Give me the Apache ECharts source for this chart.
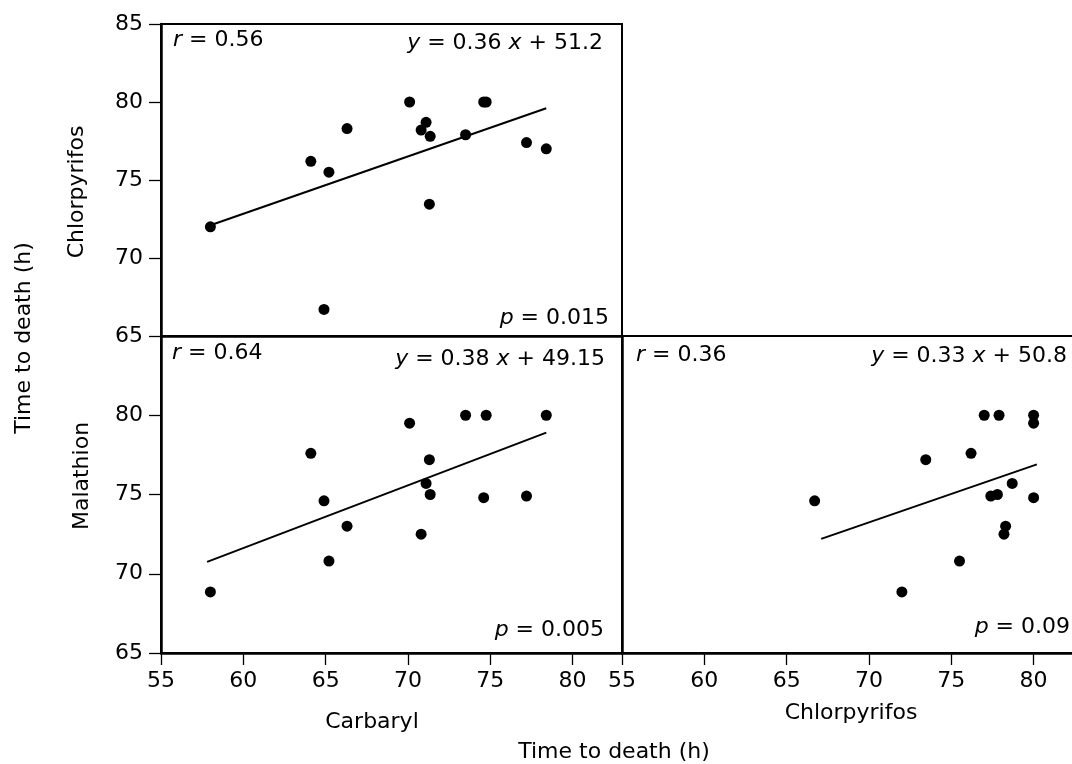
<!DOCTYPE html>
<html>
<head>
<meta charset="utf-8">
<script src="https://cdn.jsdelivr.net/npm/echarts@6/dist/echarts.min.js"></script>
<style>
    html, body {margin: 0; padding: 0; background: #fff;}
    #chart {width: 1072px; height: 764px;}
</style>
</head>
<body>
<div id="chart"></div>
<script>
// time to death (h) of the same 15 groups under three insecticides
var carbaryl     = [58.0, 64.1, 64.9, 65.2, 66.3, 70.1, 70.8, 71.1, 71.3, 71.35, 73.5, 74.6, 74.75, 77.2, 78.4];
var chlorpyrifos = [72.0, 76.2, 66.7, 75.5, 78.3, 80.0, 78.2, 78.7, 73.45, 77.8, 77.9, 80.0, 80.0, 77.4, 77.0];
var malathion    = [68.85, 77.6, 74.6, 70.8, 73.0, 79.5, 72.5, 75.7, 77.2, 75.0, 80.0, 74.8, 80.0, 74.9, 80.0];

// fitted lines, end points
var fitCarbChlor = [[58.0, 72.1], [78.4, 79.6]];
var fitCarbMal   = [[57.8, 70.75], [78.4, 78.9]];
var fitChlorMal  = [[67.1, 72.2], [80.2, 76.9]];

// r, slope/intercept and p for each panel (top-left, bottom-left, bottom-right)
var rText  = ['0.56', '0.64', '0.36'];
var eqText = [['0.36', '51.2'], ['0.38', '49.15'], ['0.33', '50.8']];
var pText  = ['0.015', '0.005', '0.09'];

var FONT = 'DejaVu Sans';

function pairs(a, b) {
    var out = [];
    for (var i = 0; i < a.length; i++) {
        out.push([a[i], b[i]]);
    }
    return out;
}

function xAx(grid, labels) {
    return {
        gridIndex: grid, type: 'value', min: 55, max: 83, interval: 5,
        axisLine: {show: true, onZero: false, lineStyle: {color: '#000', width: 2.5}},
        axisTick: {show: labels, inside: false, length: 12, lineStyle: {color: '#000', width: 1.3}},
        axisLabel: {show: labels, margin: 17, showMaxLabel: false, color: '#000', fontSize: 22, fontFamily: FONT},
        splitLine: {show: false}
    };
}

function yAx(grid, labels, showMax) {
    return {
        gridIndex: grid, type: 'value', min: 65, max: 85, interval: 5,
        axisLine: {show: true, onZero: false, lineStyle: {color: '#000', width: 2.5}},
        axisTick: {show: labels, inside: false, length: 12, lineStyle: {color: '#000', width: 1.3}},
        axisLabel: {show: labels, margin: 18, showMaxLabel: showMax, color: '#000', fontSize: 22, fontFamily: FONT},
        splitLine: {show: false}
    };
}

function dots(xi, yi, data) {
    return {
        type: 'scatter', xAxisIndex: xi, yAxisIndex: yi, data: data,
        symbol: 'circle', symbolSize: 11, itemStyle: {color: '#000', opacity: 1}, silent: true
    };
}

function fit(xi, yi, data) {
    return {
        type: 'line', xAxisIndex: xi, yAxisIndex: yi, data: data,
        showSymbol: false, symbol: 'none', lineStyle: {color: '#000', width: 2}, silent: true
    };
}

var rich = {
    i: {fontStyle: 'italic', fontSize: 22, fontFamily: FONT, fill: '#000'},
    n: {fontSize: 22, fontFamily: FONT, fill: '#000'}
};

function txt(x, y, text, align, rot) {
    return {
        type: 'text', x: x, y: y, rotation: rot || 0, silent: true,
        style: {
            text: text, fill: '#000', fontSize: 22, fontFamily: FONT,
            textAlign: align || 'center', textVerticalAlign: 'middle', rich: rich
        }
    };
}

function rLabel(i) { return '{i|r}{n| = ' + rText[i] + '}'; }
function eqLabel(i) { return '{i|y}{n| = ' + eqText[i][0] + ' }{i|x}{n| + ' + eqText[i][1] + '}'; }
function pLabel(i) { return '{i|p}{n| = ' + pText[i] + '}'; }

var chart = echarts.init(document.getElementById('chart'));

var gridBase = {show: true, borderColor: '#000', borderWidth: 2, backgroundColor: 'transparent', containLabel: false, outerBoundsMode: 'none'};

var option = {
    animation: false,
    backgroundColor: '#fff',
    grid: [
        Object.assign({left: 161, top: 24, width: 461, height: 312}, gridBase),
        Object.assign({left: 161, top: 336, width: 461, height: 317}, gridBase),
        Object.assign({left: 622, top: 336, width: 461, height: 317}, gridBase)
    ],
    xAxis: [xAx(0, false), xAx(1, true), xAx(2, true)],
    yAxis: [yAx(0, true, true), yAx(1, true, false), yAx(2, false, false)],
    series: [
        dots(0, 0, pairs(carbaryl, chlorpyrifos)),
        fit(0, 0, fitCarbChlor),
        dots(1, 1, pairs(carbaryl, malathion)),
        fit(1, 1, fitCarbMal),
        dots(2, 2, pairs(chlorpyrifos, malathion)),
        fit(2, 2, fitChlorMal)
    ],
    graphic: [
        // panel statistics
        txt(173, 40, rLabel(0), 'left'),
        txt(603, 43, eqLabel(0), 'right'),
        txt(609, 318, pLabel(0), 'right'),
        txt(172, 353, rLabel(1), 'left'),
        txt(605, 359, eqLabel(1), 'right'),
        txt(604, 630, pLabel(1), 'right'),
        txt(636, 355, rLabel(2), 'left'),
        txt(1067, 356, eqLabel(2), 'right'),
        txt(1070, 627, pLabel(2), 'right'),
        // axis titles
        txt(77, 192, 'Chlorpyrifos', 'center', Math.PI / 2),
        txt(82, 476, 'Malathion', 'center', Math.PI / 2),
        txt(24, 338, 'Time to death (h)', 'center', Math.PI / 2),
        txt(372, 722, 'Carbaryl'),
        txt(851, 713, 'Chlorpyrifos'),
        txt(614, 752, 'Time to death (h)')
    ]
};
chart.setOption(option);
</script>
</body>
</html>
